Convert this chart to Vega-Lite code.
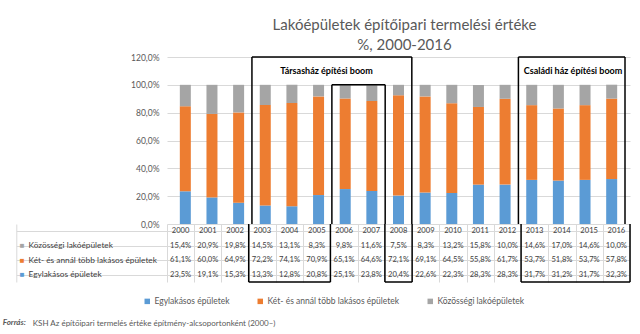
{
  "$schema": "https://vega.github.io/schema/vega-lite/v6.json",
  "padding": {"left": 2, "top": 18, "right": 8, "bottom": 4},
  "bounds": "flush",
  "spacing": 0,
  "config": {
    "font": "Lato",
    "view": {"stroke": null},
    "locale": {"number": {"decimal": ",", "thousands": " ", "grouping": [3], "currency": ["", " Ft"]}},
    "legend": {"direction": "horizontal", "symbolType": "square", "symbolSize": 30, "labelFontSize": 8.5, "labelColor": "#595959", "columnPadding": 26, "labelOffset": 3, "title": null}
  },
  "title": {
    "text": "Forrás:",
    "orient": "bottom", "anchor": "start", "frame": "bounds",
    "fontSize": 8, "fontStyle": "italic", "fontWeight": "bold", "color": "#595959",
    "offset": -9, "dx": -13
  },
  "datasets": {
    "d": [
      {"year": 2000, "series": "Egylakásos épületek", "value": 0.235},
      {"year": 2000, "series": "Két- és annál több lakásos épületek", "value": 0.611},
      {"year": 2000, "series": "Közösségi lakóépületek", "value": 0.154},
      {"year": 2001, "series": "Egylakásos épületek", "value": 0.191},
      {"year": 2001, "series": "Két- és annál több lakásos épületek", "value": 0.600},
      {"year": 2001, "series": "Közösségi lakóépületek", "value": 0.209},
      {"year": 2002, "series": "Egylakásos épületek", "value": 0.153},
      {"year": 2002, "series": "Két- és annál több lakásos épületek", "value": 0.649},
      {"year": 2002, "series": "Közösségi lakóépületek", "value": 0.198},
      {"year": 2003, "series": "Egylakásos épületek", "value": 0.133},
      {"year": 2003, "series": "Két- és annál több lakásos épületek", "value": 0.722},
      {"year": 2003, "series": "Közösségi lakóépületek", "value": 0.145},
      {"year": 2004, "series": "Egylakásos épületek", "value": 0.128},
      {"year": 2004, "series": "Két- és annál több lakásos épületek", "value": 0.741},
      {"year": 2004, "series": "Közösségi lakóépületek", "value": 0.131},
      {"year": 2005, "series": "Egylakásos épületek", "value": 0.208},
      {"year": 2005, "series": "Két- és annál több lakásos épületek", "value": 0.709},
      {"year": 2005, "series": "Közösségi lakóépületek", "value": 0.083},
      {"year": 2006, "series": "Egylakásos épületek", "value": 0.251},
      {"year": 2006, "series": "Két- és annál több lakásos épületek", "value": 0.651},
      {"year": 2006, "series": "Közösségi lakóépületek", "value": 0.098},
      {"year": 2007, "series": "Egylakásos épületek", "value": 0.238},
      {"year": 2007, "series": "Két- és annál több lakásos épületek", "value": 0.646},
      {"year": 2007, "series": "Közösségi lakóépületek", "value": 0.116},
      {"year": 2008, "series": "Egylakásos épületek", "value": 0.204},
      {"year": 2008, "series": "Két- és annál több lakásos épületek", "value": 0.721},
      {"year": 2008, "series": "Közösségi lakóépületek", "value": 0.075},
      {"year": 2009, "series": "Egylakásos épületek", "value": 0.226},
      {"year": 2009, "series": "Két- és annál több lakásos épületek", "value": 0.691},
      {"year": 2009, "series": "Közösségi lakóépületek", "value": 0.083},
      {"year": 2010, "series": "Egylakásos épületek", "value": 0.223},
      {"year": 2010, "series": "Két- és annál több lakásos épületek", "value": 0.645},
      {"year": 2010, "series": "Közösségi lakóépületek", "value": 0.132},
      {"year": 2011, "series": "Egylakásos épületek", "value": 0.283},
      {"year": 2011, "series": "Két- és annál több lakásos épületek", "value": 0.558},
      {"year": 2011, "series": "Közösségi lakóépületek", "value": 0.158},
      {"year": 2012, "series": "Egylakásos épületek", "value": 0.283},
      {"year": 2012, "series": "Két- és annál több lakásos épületek", "value": 0.617},
      {"year": 2012, "series": "Közösségi lakóépületek", "value": 0.100},
      {"year": 2013, "series": "Egylakásos épületek", "value": 0.317},
      {"year": 2013, "series": "Két- és annál több lakásos épületek", "value": 0.537},
      {"year": 2013, "series": "Közösségi lakóépületek", "value": 0.146},
      {"year": 2014, "series": "Egylakásos épületek", "value": 0.312},
      {"year": 2014, "series": "Két- és annál több lakásos épületek", "value": 0.518},
      {"year": 2014, "series": "Közösségi lakóépületek", "value": 0.170},
      {"year": 2015, "series": "Egylakásos épületek", "value": 0.317},
      {"year": 2015, "series": "Két- és annál több lakásos épületek", "value": 0.537},
      {"year": 2015, "series": "Közösségi lakóépületek", "value": 0.146},
      {"year": 2016, "series": "Egylakásos épületek", "value": 0.323},
      {"year": 2016, "series": "Két- és annál több lakásos épületek", "value": 0.578},
      {"year": 2016, "series": "Közösségi lakóépületek", "value": 0.100}
    ],
    "vlines": [
      {"x": 2002.5, "top": 1.2},
      {"x": 2005.5, "top": 1.0},
      {"x": 2007.5, "top": 1.0},
      {"x": 2008.5, "top": 1.2},
      {"x": 2012.5, "top": 1.2},
      {"x": 2016.5, "top": 1.2}
    ],
    "htop": [
      {"start": 2002.5, "end": 2008.5, "y": 1.2},
      {"start": 2005.5, "end": 2007.5, "y": 1.0},
      {"start": 2012.5, "end": 2016.5, "y": 1.2}
    ],
    "hbottom": [
      {"start": 2002.5, "end": 2005.5},
      {"start": 2007.5, "end": 2008.5},
      {"start": 2012.5, "end": 2016.5}
    ],
    "boxlabels": [
      {"label": "Társasház építési boom", "x": 2005.3, "y": 1.1},
      {"label": "Családi ház építési boom", "x": 2014.55, "y": 1.1}
    ]
  },
  "vconcat": [
    {
      "width": 463,
      "height": 167,
      "title": {
        "text": ["Lakóépületek építőipari termelési értéke", "%, 2000-2016"],
        "anchor": "middle", "fontSize": 15, "fontWeight": "normal", "color": "#595959",
        "lineHeight": 20, "offset": 0, "dx": 6
      },
      "layer": [
        {
          "data": {"name": "d"},
          "mark": {"type": "bar", "width": 11},
          "encoding": {
            "x": {"field": "year", "type": "quantitative", "scale": {"domain": [1999.5, 2016.5], "nice": false, "zero": false}, "axis": null},
            "y": {"field": "value", "type": "quantitative", "stack": "zero",
              "scale": {"domain": [0, 1.2], "nice": false},
              "axis": {"values": [0, 0.2, 0.4, 0.6, 0.8, 1.0, 1.2], "tickCount": 12, "format": ".1%", "title": null, "domain": false, "ticks": false, "gridColor": "#D9D9D9", "labelColor": "#595959", "labelFontSize": 8.5, "labelPadding": 8, "labelOverlap": false}},
            "color": {"field": "series", "type": "nominal",
              "scale": {"domain": ["Egylakásos épületek", "Két- és annál több lakásos épületek", "Közösségi lakóépületek"], "range": ["#5B9BD5", "#ED7D31", "#A5A5A5"]},
              "legend": {"orient": "none", "direction": "horizontal", "legendX": -24, "legendY": 240}},
            "order": {"field": "series", "sort": "ascending"}
          }
        },
        {
          "data": {"name": "vlines"},
          "mark": {"type": "rule", "color": "#000000", "strokeWidth": 1.5},
          "encoding": {
            "x": {"field": "x", "type": "quantitative"},
            "y": {"field": "top", "type": "quantitative"},
            "y2": {"datum": 0}
          }
        },
        {
          "data": {"name": "htop"},
          "mark": {"type": "rule", "color": "#000000", "strokeWidth": 1.5},
          "encoding": {
            "x": {"field": "start", "type": "quantitative"},
            "x2": {"field": "end"},
            "y": {"field": "y", "type": "quantitative"}
          }
        },
        {
          "data": {"name": "boxlabels"},
          "mark": {"type": "text", "fontSize": 9, "fontWeight": "bold", "color": "#000000"},
          "encoding": {
            "x": {"field": "x", "type": "quantitative"},
            "y": {"field": "y", "type": "quantitative"},
            "text": {"field": "label"}
          }
        }
      ]
    },
    {
      "width": 463,
      "height": 58,
      "title": {
        "text": "KSH Az építőipari termelés értéke építmény-alcsoportonként (2000–)",
        "orient": "bottom", "anchor": "start", "frame": "bounds",
        "fontSize": 8, "fontWeight": "normal", "fontStyle": "normal", "color": "#595959",
        "offset": 37, "dx": 17
      },
      "resolve": {"scale": {"y": "independent"}, "axis": {"y": "independent"}},
      "layer": [
        {
          "data": {"name": "d"},
          "mark": {"type": "text", "fontSize": 7.6, "color": "#404040"},
          "encoding": {
            "x": {"field": "year", "type": "quantitative", "scale": {"domain": [1999.5, 2016.5], "nice": false, "zero": false},
              "axis": {"values": [1999.5, 2000.5, 2001.5, 2002.5, 2003.5, 2004.5, 2005.5, 2006.5, 2007.5, 2008.5, 2009.5, 2010.5, 2011.5, 2012.5, 2013.5, 2014.5, 2015.5, 2016.5], "tickCount": 40, "grid": true, "gridColor": "#D9D9D9", "labels": false, "ticks": false, "domain": false, "title": null}},
            "y": {"field": "series", "type": "nominal",
              "scale": {"domain": [" ", "Közösségi lakóépületek", "Két- és annál több lakásos épületek", "Egylakásos épületek"], "paddingInner": 0, "paddingOuter": 0},
              "axis": {"orient": "left", "offset": 150.7, "domain": true, "domainColor": "#D9D9D9", "ticks": true, "tickSize": -150.7, "tickColor": "#D9D9D9", "bandPosition": 1, "grid": true, "gridColor": "#D9D9D9", "labelAlign": "left", "labelPadding": 139, "labelFontSize": 8.3, "labelColor": "#404040", "labelOverlap": false, "title": null, "labelExpr": "datum.value == ' ' ? '' : datum.value"}},
            "text": {"field": "value", "type": "quantitative", "format": ".1%"}
          }
        },
        {
          "data": {"name": "d"},
          "transform": [{"filter": "datum.series == 'Egylakásos épületek'"}],
          "mark": {"type": "text", "fontSize": 7.6, "color": "#404040"},
          "encoding": {
            "x": {"field": "year", "type": "quantitative"},
            "y": {"datum": " ", "type": "nominal",
              "scale": {"domain": [" ", "Közösségi lakóépületek", "Két- és annál több lakásos épületek", "Egylakásos épületek"], "paddingInner": 0, "paddingOuter": 0},
              "axis": null},
            "text": {"field": "year", "type": "ordinal"}
          }
        },
        {
          "data": {"name": "d"},
          "mark": {"type": "point", "opacity": 0},
          "encoding": {
            "y": {"field": "series", "type": "nominal",
              "scale": {"domain": [" ", "Közösségi lakóépületek", "Két- és annál több lakásos épületek", "Egylakásos épületek"], "paddingInner": 0, "paddingOuter": 0},
              "axis": {"orient": "left", "offset": 150.7, "domain": false, "ticks": false, "tickSize": 0, "grid": false, "labelAlign": "left", "labelPadding": -3, "labelFontSize": 8, "labelOverlap": false, "title": null,
                "labelExpr": "datum.value == ' ' ? '' : '■'",
                "labelColor": {"condition": [{"test": "datum.value == 'Egylakásos épületek'", "value": "#5B9BD5"}, {"test": "datum.value == 'Két- és annál több lakásos épületek'", "value": "#ED7D31"}], "value": "#A5A5A5"}}}
          }
        },
        {
          "data": {"name": "vlines"},
          "mark": {"type": "rule", "color": "#000000", "strokeWidth": 1.5},
          "encoding": {
            "x": {"field": "x", "type": "quantitative"}
          }
        },
        {
          "data": {"name": "hbottom"},
          "mark": {"type": "rule", "color": "#000000", "strokeWidth": 1.5},
          "encoding": {
            "x": {"field": "start", "type": "quantitative"},
            "x2": {"field": "end"},
            "y": {"datum": "Egylakásos épületek", "type": "nominal", "bandPosition": 1,
              "scale": {"domain": [" ", "Közösségi lakóépületek", "Két- és annál több lakásos épületek", "Egylakásos épületek"], "paddingInner": 0, "paddingOuter": 0},
              "axis": null}
          }
        }
      ]
    }
  ]
}
